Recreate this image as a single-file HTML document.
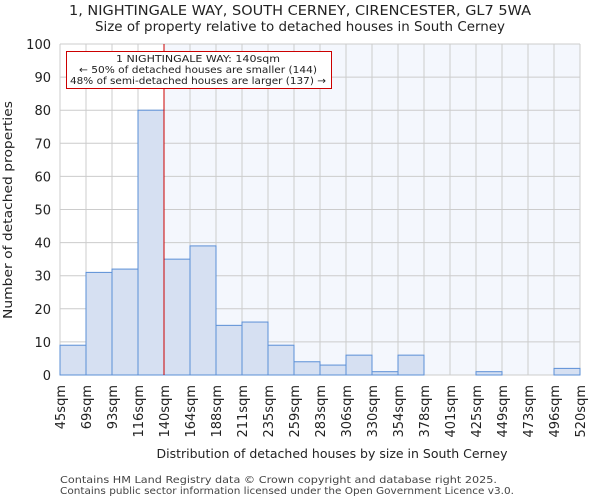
<!DOCTYPE html>
<html><head><meta charset="utf-8"><style>
body{margin:0;background:#fff;font-family:"DejaVu Sans","Liberation Sans",sans-serif}
svg text{font-family:"DejaVu Sans","Liberation Sans",sans-serif}
</style></head><body>
<svg id="chart" width="600" height="500" xmlns="http://www.w3.org/2000/svg">
<text x="300" y="15" text-anchor="middle" font-size="13" textLength="462" lengthAdjust="spacingAndGlyphs" fill="#222">1, NIGHTINGALE WAY, SOUTH CERNEY, CIRENCESTER, GL7 5WA</text>
<text x="300" y="31" text-anchor="middle" font-size="13" textLength="410" lengthAdjust="spacingAndGlyphs" fill="#222">Size of property relative to detached houses in South Cerney</text>
<rect x="60" y="44" width="104" height="331" fill="#ffffff"/>
<rect x="164" y="44" width="416" height="331" fill="#f4f7fd"/>
<g id="grid"></g>
<g id="bars"></g>
<g id="axes"></g>
<line x1="164" y1="44" x2="164" y2="375" stroke="#cc0000" stroke-width="1"/>
<rect x="66.5" y="51.5" width="265" height="37" fill="#fff" stroke="#cc0000" stroke-width="1"/>
<text x="198" y="62" text-anchor="middle" font-size="10" textLength="164" lengthAdjust="spacingAndGlyphs" fill="#222">1 NIGHTINGALE WAY: 140sqm</text>
<text x="198" y="73" text-anchor="middle" font-size="10" textLength="238" lengthAdjust="spacingAndGlyphs" fill="#222">← 50% of detached houses are smaller (144)</text>
<text x="198" y="84" text-anchor="middle" font-size="10" textLength="256" lengthAdjust="spacingAndGlyphs" fill="#222">48% of semi-detached houses are larger (137) →</text>
<text x="332" y="458" text-anchor="middle" font-size="12" textLength="351" lengthAdjust="spacingAndGlyphs" fill="#222">Distribution of detached houses by size in South Cerney</text>
<text transform="translate(12,210) rotate(-90)" text-anchor="middle" font-size="12" textLength="218" lengthAdjust="spacingAndGlyphs" fill="#222">Number of detached properties</text>
<text x="60" y="483" font-size="10" textLength="437" lengthAdjust="spacingAndGlyphs" fill="#444">Contains HM Land Registry data © Crown copyright and database right 2025.</text>
<text x="60" y="494" font-size="10" textLength="454" lengthAdjust="spacingAndGlyphs" fill="#444">Contains public sector information licensed under the Open Government Licence v3.0.</text>
</svg>
<script>
const categories=["45sqm","69sqm","93sqm","116sqm","140sqm","164sqm","188sqm","211sqm","235sqm","259sqm","283sqm","306sqm","330sqm","354sqm","378sqm","401sqm","425sqm","449sqm","473sqm","496sqm","520sqm"];
const counts=[9,31,32,80,35,39,15,16,9,4,3,6,1,6,0,0,1,0,0,2];
const yTicks=[0,10,20,30,40,50,60,70,80,90,100];
const NS="http://www.w3.org/2000/svg";
const X0=60,X1=580,Y0=375,Y1=44;
const step=(X1-X0)/(categories.length-1);
const xAt=i=>X0+i*step;
const yAt=v=>Y0-(v/100)*(Y0-Y1);
function mk(tag,attrs,parent){const e=document.createElementNS(NS,tag);for(const k in attrs)e.setAttribute(k,attrs[k]);document.getElementById(parent).appendChild(e);return e;}
yTicks.forEach(t=>{
 const l=mk('line',{x1:X0,x2:X1,y1:yAt(t),y2:yAt(t),stroke:'#cccccc','stroke-width':1},'grid');
 
 
 const tx=mk('text',{x:X0-9,y:yAt(t)+5,'text-anchor':'end','font-size':13,fill:'#222'},'axes');
 tx.textContent=t;
 
 
});
categories.forEach((c,i)=>{
 const l=mk('line',{x1:xAt(i),x2:xAt(i),y1:Y1,y2:Y0,stroke:'#cccccc','stroke-width':1},'grid');
 
 
 const x=xAt(i)+5,y=Y0+10;
 const tx=mk('text',{x:x,y:y,transform:`rotate(-90 ${x} ${y})`,'text-anchor':'end','font-size':13,fill:'#222'},'axes');
 tx.textContent=c;
 
 
});
counts.forEach((v,i)=>{
 if(v<=0)return;
 const r=mk('rect',{x:xAt(i),y:yAt(v),width:step,height:Y0-yAt(v),fill:'#d6e0f2',stroke:'#5b8fd6','stroke-width':1},'bars');
 
 
});
</script>
</body></html>
